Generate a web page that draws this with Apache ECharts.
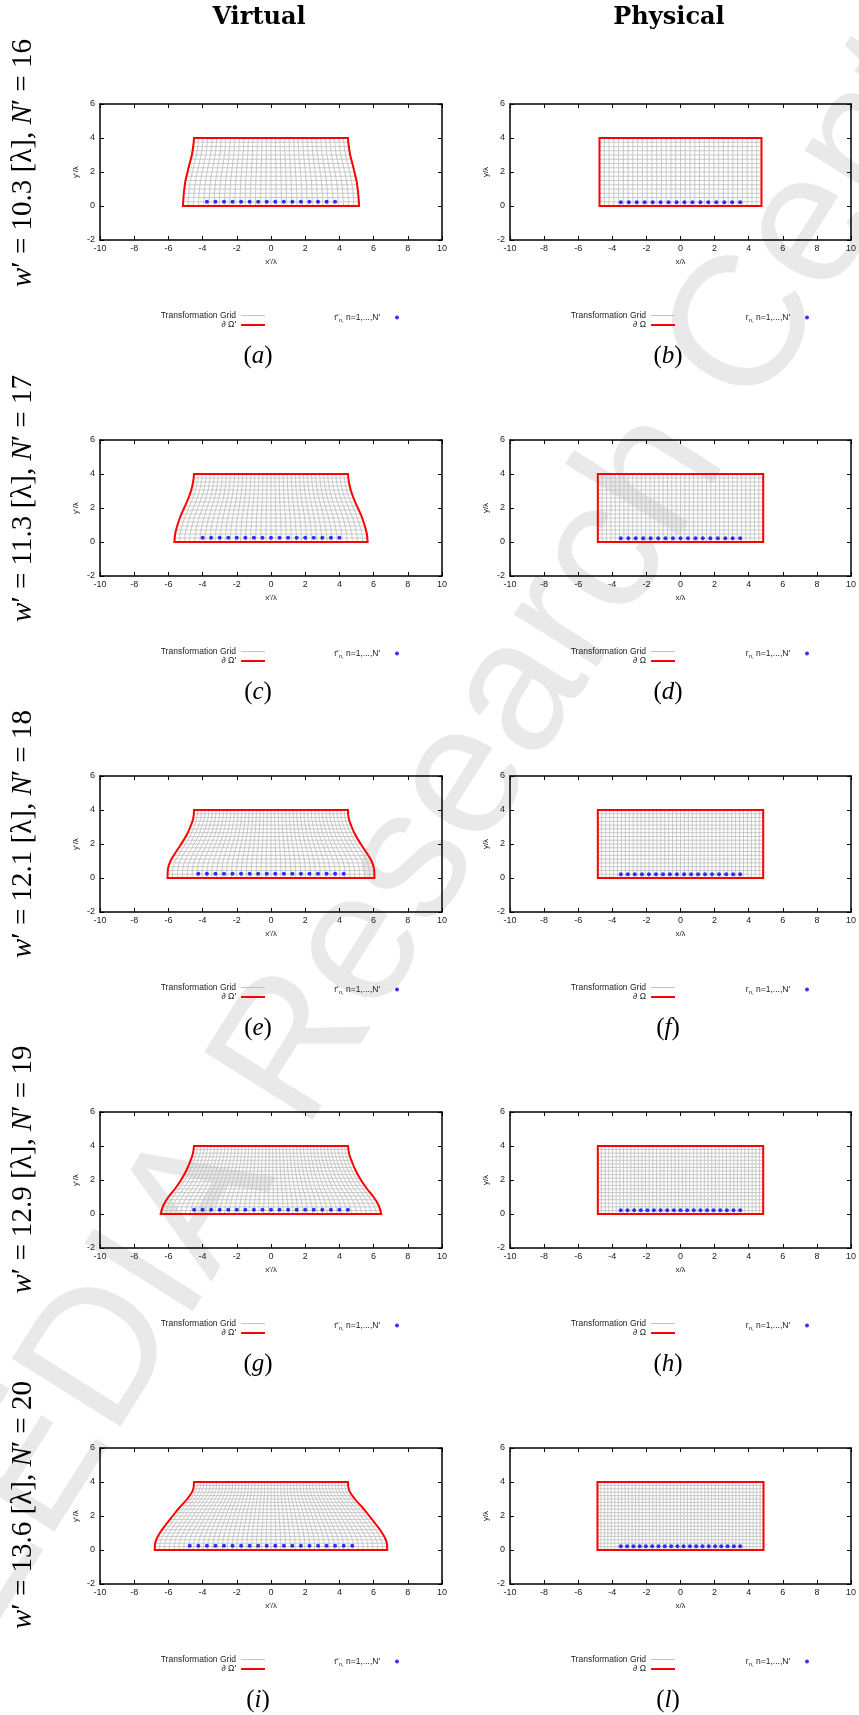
<!DOCTYPE html>
<html>
<head>
<meta charset="utf-8">
<script src="https://cdn.jsdelivr.net/npm/echarts@6/dist/echarts.min.js"></script>
<style>
html,body{margin:0;padding:0;background:#fff}
#main{width:859px;height:1715px}
</style>
</head>
<body>
<div id="main"></div>
<script>
// w'/λ and N' of every row
var rowWidth = [10.3, 11.3, 12.1, 12.9, 13.6];
var rowN = [16, 17, 18, 19, 20];
var captions = [['a', 'b'], ['c', 'd'], ['e', 'f'], ['g', 'h'], ['i', 'l']];

// left edge of the virtual domain (x'/λ), read at these heights y'/λ
var edgeY = [4, 3.5, 3, 2.5, 2, 1.5, 1, 0.5, 0];
var edgeXV = [
    [-4.5, -4.55, -4.63, -4.76, -4.88, -5.0, -5.07, -5.12, -5.15],
    [-4.5, -4.56, -4.68, -4.86, -5.08, -5.3, -5.47, -5.6, -5.65],
    [-4.5, -4.55, -4.72, -4.95, -5.25, -5.58, -5.88, -6.03, -6.05],
    [-4.5, -4.58, -4.76, -4.98, -5.26, -5.6, -6.0, -6.3, -6.45],
    [-4.5, -4.57, -4.9, -5.35, -5.75, -6.14, -6.5, -6.75, -6.8]
];
// half width of the physical domain (x/λ)
var halfP = [4.75, 4.85, 4.85, 4.85, 4.87];
// cells of the transformation grid
var meshRows = [16, 17, 18, 19, 20];
var meshCols = [34, 38, 42, 45, 48];

// source positions r'_n (virtual) and r_n (physical)
var dotYV = 0.25;
var dotYP = 0.22;
var dotsV = [
    [-3.75, -3.25, -2.75, -2.25, -1.75, -1.25, -0.75, -0.25, 0.25, 0.75, 1.25, 1.75, 2.25, 2.75, 3.25, 3.75],
    [-4, -3.5, -3, -2.5, -2, -1.5, -1, -0.5, 0, 0.5, 1, 1.5, 2, 2.5, 3, 3.5, 4],
    [-4.25, -3.75, -3.25, -2.75, -2.25, -1.75, -1.25, -0.75, -0.25, 0.25, 0.75, 1.25, 1.75, 2.25, 2.75, 3.25, 3.75, 4.25],
    [-4.5, -4, -3.5, -3, -2.5, -2, -1.5, -1, -0.5, 0, 0.5, 1, 1.5, 2, 2.5, 3, 3.5, 4, 4.5],
    [-4.75, -4.25, -3.75, -3.25, -2.75, -2.25, -1.75, -1.25, -0.75, -0.25, 0.25, 0.75, 1.25, 1.75, 2.25, 2.75, 3.25, 3.75, 4.25, 4.75]
];
var dotsP = [
    [-3.5, -3.03, -2.57, -2.1, -1.63, -1.17, -0.7, -0.23, 0.23, 0.7, 1.17, 1.63, 2.1, 2.57, 3.03, 3.5],
    [-3.5, -3.06, -2.63, -2.19, -1.75, -1.31, -0.88, -0.44, 0, 0.44, 0.88, 1.31, 1.75, 2.19, 2.63, 3.06, 3.5],
    [-3.5, -3.09, -2.68, -2.26, -1.85, -1.44, -1.03, -0.62, -0.21, 0.21, 0.62, 1.03, 1.44, 1.85, 2.26, 2.68, 3.09, 3.5],
    [-3.5, -3.11, -2.72, -2.33, -1.94, -1.56, -1.17, -0.78, -0.39, 0, 0.39, 0.78, 1.17, 1.56, 1.94, 2.33, 2.72, 3.11, 3.5],
    [-3.5, -3.13, -2.76, -2.39, -2.03, -1.66, -1.29, -0.92, -0.55, -0.18, 0.18, 0.55, 0.92, 1.29, 1.66, 2.03, 2.39, 2.76, 3.13, 3.5]
];

var SANS = 'Liberation Sans';
var SERIF = 'Liberation Serif';

function edgeAt(ex, y) {
    for (var k = 0; k < edgeY.length - 1; k++) {
        if (y <= edgeY[k] && y >= edgeY[k + 1]) {
            var t = (edgeY[k] - y) / (edgeY[k] - edgeY[k + 1]);
            return ex[k] + t * (ex[k + 1] - ex[k]);
        }
    }
    return ex[ex.length - 1];
}

// grid lines of the mapped domain, split by empty points
function meshData(ex, rows, cols) {
    var d = [];
    for (var j = 0; j <= cols; j++) {
        var t = j / cols;
        for (var k = 0; k < edgeY.length; k++) d.push([ex[k] - 2 * t * ex[k], edgeY[k]]);
        d.push(['-', '-']);
    }
    for (var i = 0; i <= rows; i++) {
        var y = 4 * i / rows;
        var l = edgeAt(ex, y);
        d.push([l, y], [-l, y], ['-', '-']);
    }
    return d;
}

function boundaryData(ex) {
    var d = [];
    var k, n = edgeY.length;
    for (k = 0; k < n; k++) d.push([ex[k], edgeY[k]]);
    d.push(['-', '-']);
    for (k = 0; k < n; k++) d.push([-ex[k], edgeY[k]]);
    d.push(['-', '-']);
    d.push([ex[0], 4], [-ex[0], 4], ['-', '-']);
    d.push([ex[n - 1], 0], [-ex[n - 1], 0]);
    return d;
}

function legendLabel(name) {
    if (name === "r'n") return "r'{s|n,} n=1,...,N'";
    if (name === 'rn') return "r{s|n,} n=1,...,N'";
    return name;
}
function legendText() {
    return {
        fontSize: 8.5, fontFamily: SANS, color: '#222',
        rich: { s: { fontSize: 6, fontFamily: SANS, color: '#222', padding: [5, 0, 0, 0] } }
    };
}
function axLine() { return { show: true, onZero: false, lineStyle: { color: '#000', width: 1.5 } }; }
function axTick() { return { show: true, inside: true, length: 4, lineStyle: { color: '#000', width: 1 } }; }

var option = {
    animation: false,
    backgroundColor: '#fff',
    grid: [], xAxis: [], yAxis: [], series: [], legend: [], graphic: []
};

// watermark and column titles
option.graphic.push({
    type: 'text', x: -118, y: 1710, rotation: 57.9 * Math.PI / 180, z: -10,
    style: { text: 'ELEDIA Research Center', fontFamily: SANS, fontSize: 186, fill: '#e9e9e9', align: 'left', verticalAlign: 'middle' }
});
option.graphic.push({
    type: 'text', x: 259, y: 18,
    style: { text: 'Virtual', fontFamily: 'DejaVu Serif', fontWeight: 'bold', fontSize: 24, fill: '#000', align: 'center', verticalAlign: 'middle' }
});
option.graphic.push({
    type: 'text', x: 669, y: 18,
    style: { text: 'Physical', fontFamily: 'DejaVu Serif', fontWeight: 'bold', fontSize: 24, fill: '#000', align: 'center', verticalAlign: 'middle' }
});

for (var r = 0; r < 5; r++) {
    option.graphic.push({
        type: 'text', x: 23, y: 163 + 335.5 * r, rotation: Math.PI / 2,
        style: {
            text: '{i|w}′ = ' + rowWidth[r].toFixed(1) + ' [λ], {i|N}′ = ' + rowN[r],
            fontFamily: SERIF, fontSize: 29, fill: '#000', align: 'center', verticalAlign: 'middle',
            rich: { i: { fontFamily: SERIF, fontStyle: 'italic', fontSize: 29, fill: '#000' } }
        }
    });
    for (var c = 0; c < 2; c++) {
        var p = r * 2 + c;
        var isV = c === 0;
        option.grid.push({ left: isV ? 100 : 510, top: 104 + 336 * r, width: 342, height: 136 });

        option.xAxis.push({
            gridIndex: p, type: 'value', min: -10, max: 10, interval: 2, position: 'bottom',
            name: isV ? "x'/λ" : 'x/λ', nameLocation: 'middle', nameGap: 18,
            nameTextStyle: { fontSize: 8, color: '#222', fontFamily: SANS },
            axisLine: axLine(), axisTick: axTick(), splitLine: { show: false },
            axisLabel: { fontSize: 9, color: '#222', fontFamily: SANS, margin: 4 }
        });
        option.xAxis.push({
            gridIndex: p, type: 'value', min: -10, max: 10, interval: 2, position: 'top',
            axisLine: axLine(), axisTick: axTick(), splitLine: { show: false }, axisLabel: { show: false }
        });
        option.yAxis.push({
            gridIndex: p, type: 'value', min: -2, max: 6, interval: 2, position: 'left',
            name: isV ? "y'/λ" : 'y/λ', nameLocation: 'middle', nameGap: 20, nameRotate: 90,
            nameTextStyle: { fontSize: 8, color: '#222', fontFamily: SANS },
            axisLine: axLine(), axisTick: axTick(), splitLine: { show: false },
            axisLabel: { fontSize: 9, color: '#222', fontFamily: SANS, margin: 5 }
        });
        option.yAxis.push({
            gridIndex: p, type: 'value', min: -2, max: 6, interval: 2, position: 'right',
            axisLine: axLine(), axisTick: axTick(), splitLine: { show: false }, axisLabel: { show: false }
        });

        var ex = isV ? edgeXV[r] : edgeY.map(function () { return -halfP[r]; });
        var bName = isV ? "∂ Ω'" : '∂ Ω';
        var dName = isV ? "r'n" : 'rn';
        var dx = isV ? dotsV[r] : dotsP[r];
        var dy = isV ? dotYV : dotYP;

        option.series.push({
            name: 'Transformation Grid', type: 'line', xAxisIndex: 2 * p, yAxisIndex: 2 * p,
            data: meshData(ex, meshRows[r], meshCols[r]), symbol: 'none', smooth: 0.35,
            lineStyle: { color: '#c2c2c2', width: 0.9 }, itemStyle: { color: '#c2c2c2' }, z: 2
        });
        option.series.push({
            name: bName, type: 'line', xAxisIndex: 2 * p, yAxisIndex: 2 * p,
            data: boundaryData(ex), symbol: 'none', smooth: 0.35,
            lineStyle: { color: '#ff0000', width: 2, cap: 'square' }, itemStyle: { color: '#ff0000' }, z: 3
        });
        option.series.push({
            name: dName, type: 'scatter', xAxisIndex: 2 * p, yAxisIndex: 2 * p,
            data: dx.map(function (v) { return [v, dy]; }), symbol: 'circle', symbolSize: 4,
            itemStyle: { color: '#0000ff' }, z: 4
        });

        option.legend.push({
            data: [
                { name: 'Transformation Grid', icon: 'path://M0 0H24V1H0Z' },
                { name: bName, icon: 'path://M0 0H24V2H0Z' }
            ],
            orient: 'vertical', align: 'right', selectedMode: false,
            right: isV ? 594 : 184, top: 311 + 336 * r, padding: 0, itemGap: 0.5,
            itemWidth: 24, itemHeight: 8, textStyle: legendText(), formatter: legendLabel
        });
        option.legend.push({
            data: [dName], orient: 'vertical', align: 'right', selectedMode: false,
            right: isV ? 460 : 50, top: 313 + 336 * r, padding: 0,
            itemWidth: 24, itemHeight: 4, textStyle: legendText(), formatter: legendLabel
        });

        option.graphic.push({
            type: 'text', x: isV ? 258 : 668, y: 356 + 336 * r,
            style: {
                text: '({i|' + captions[r][c] + '})', fontFamily: SERIF, fontSize: 25, fill: '#000',
                align: 'center', verticalAlign: 'middle',
                rich: { i: { fontFamily: SERIF, fontStyle: 'italic', fontSize: 25, fill: '#000' } }
            }
        });
    }
}

var myChart = echarts.init(document.getElementById('main'));
myChart.setOption(option);
</script>
</body>
</html>
